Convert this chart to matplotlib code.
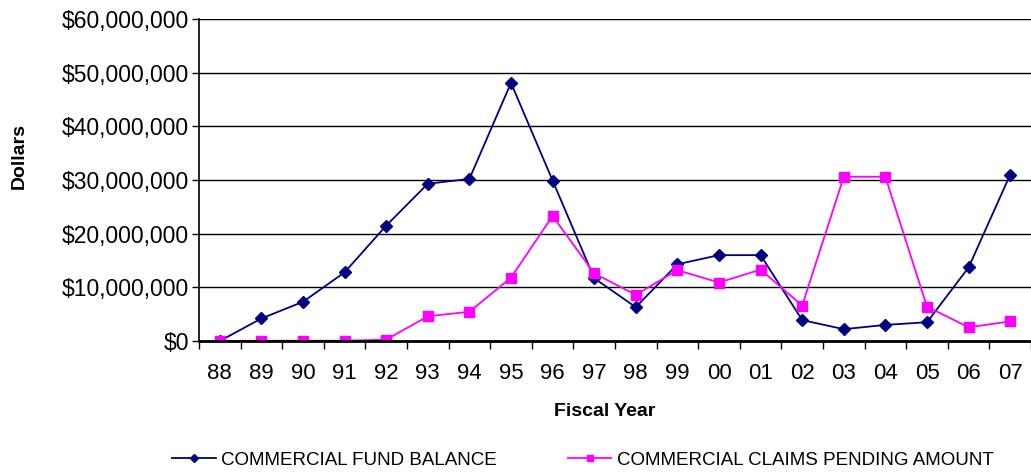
import matplotlib
matplotlib.use("Agg")
import matplotlib.pyplot as plt
from matplotlib.ticker import FuncFormatter

years = ["88", "89", "90", "91", "92", "93", "94", "95", "96", "97",
         "98", "99", "00", "01", "02", "03", "04", "05", "06", "07"]
# values in millions of dollars
fund_balance = [0.0, 4.2, 7.3, 12.8, 21.5, 29.3, 30.2, 48.1, 29.9, 11.7,
                6.3, 14.3, 16.0, 16.0, 3.9, 2.2, 3.0, 3.5, 13.7, 31.0]
claims_pending = [0.0, 0.05, 0.05, 0.05, 0.25, 4.6, 5.45, 11.8, 23.3, 12.6,
                  8.6, 13.2, 10.9, 13.3, 6.6, 30.6, 30.6, 6.4, 2.55, 3.65]
fund_balance = [v * 1e6 for v in fund_balance]
claims_pending = [v * 1e6 for v in claims_pending]

plt.rcParams['font.family'] = ['Liberation Sans', 'DejaVu Sans']

W, H = 1031, 473
fig = plt.figure(figsize=(W / 100, H / 100), dpi=100)
# axes box in pixels: left 199, top 19, bottom 341
ax = fig.add_axes([199 / W, 1 - 341 / H, 1 - 199 / W, (341 - 19) / H])
aw, ah = W - 199, 341 - 19

x = list(range(len(years)))
ax.plot(x, fund_balance, color='#000080', marker='D', markersize=6, lw=1.3,
        label='COMMERCIAL FUND BALANCE')
ax.plot(x, claims_pending, color='#FF00FF', marker='s', markersize=7, lw=1.3,
        label='COMMERCIAL CLAIMS PENDING AMOUNT')

ax.set_xlim(-0.5, len(years) - 0.5)
ax.set_ylim(0, 60e6)
ax.set_yticks([i * 10e6 for i in range(7)])
ax.yaxis.set_major_formatter(FuncFormatter(lambda v, p: "${:,.0f}".format(v)))
ax.set_xticks(x)
ax.set_xticklabels(years)
ax.set_xticks([i - 0.5 for i in range(len(years) + 1)], minor=True)
ax.tick_params(axis='x', which='major', length=0, pad=16, labelsize=16)
ax.tick_params(axis='x', which='minor', length=6, width=1, direction='out')
ax.tick_params(axis='y', length=5, width=1, pad=2, labelsize=16.5)
ax.grid(axis='y', color='black', lw=1)
ax.set_axisbelow(True)

for s in ['top', 'right']:
    ax.spines[s].set_visible(False)
ax.spines['left'].set_linewidth(1.2)
ax.spines['bottom'].set_linewidth(2)

ax.set_xlabel("Fiscal Year", fontsize=14, fontweight='bold')
ax.set_ylabel("Dollars", fontsize=14, fontweight='bold')
ax.xaxis.set_label_coords((605 - 199) / aw, -(403 - 341) / ah)
ax.yaxis.set_label_coords(-(199 - 28) / aw, (341 - 156) / ah)

ax.legend(loc='center', bbox_to_anchor=((583 - 199) / aw, -(460 - 341) / ah),
          ncol=2, frameon=False, fontsize=13.5, columnspacing=3.8,
          handlelength=2.3, handletextpad=0.3, markerscale=0.7)

fig.savefig("out.png", dpi=100)
